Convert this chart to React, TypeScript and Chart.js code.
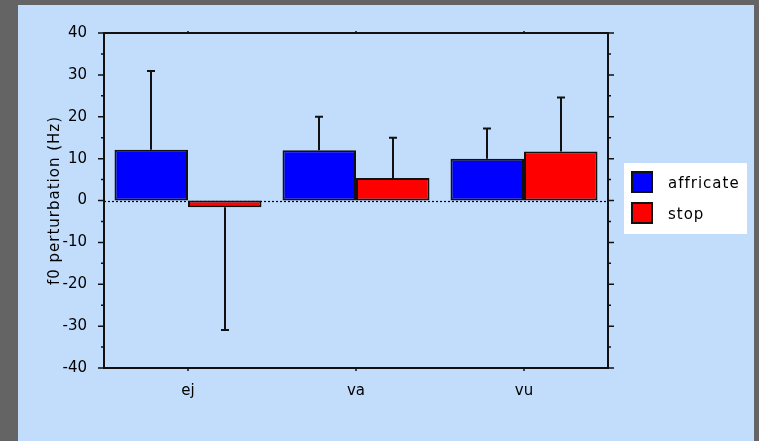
import React, { useEffect, useRef } from 'react';
import { Chart, registerables } from 'chart.js';
Chart.register(...registerables);

const W = 759;
const H = 441;

const categories = ['ej', 'va', 'vu'];
const seriesNames = ['affricate', 'stop'];
const affricate = [12.1, 12.0, 10.0];
const stop = [-1.6, 5.4, 11.7];
const affricateErr = [18.8, 8.0, 7.2];
const stopErr = [29.3, 9.6, 12.9];
const yMin = -40;
const yMax = 40;
const yStep = 10;
const yMinorStep = 5;
const yTitle = 'f0 perturbation (Hz)';

const errs = [affricateErr, stopErr];

const decor = {
  id: 'decor',
  beforeDraw(chart: any) {
    const ctx = chart.ctx;
    ctx.save();
    ctx.fillStyle = '#646464';
    ctx.fillRect(0, 0, W, H);
    ctx.fillStyle = '#C2DDFC';
    ctx.fillRect(18, 5, 736, H - 5);
    ctx.restore();
  },
  beforeDatasetsDraw(chart: any) {
    const ctx = chart.ctx;
    const { left, right } = chart.chartArea;
    const y0 = chart.scales.y.getPixelForValue(0);
    ctx.save();
    ctx.strokeStyle = '#000';
    ctx.lineWidth = 1.2;
    ctx.setLineDash([2, 2]);
    ctx.beginPath();
    ctx.moveTo(left, Math.round(y0) + 0.5);
    ctx.lineTo(right, Math.round(y0) + 0.5);
    ctx.stroke();
    ctx.restore();
  },
  afterDatasetsDraw(chart: any) {
    const ctx = chart.ctx;
    const ys = chart.scales.y;
    const xs = chart.scales.x;
    const { left, right, top, bottom } = chart.chartArea;
    ctx.save();
    // error bars
    ctx.strokeStyle = '#111';
    ctx.lineWidth = 2;
    chart.data.datasets.forEach((ds: any, i: number) => {
      const meta = chart.getDatasetMeta(i);
      meta.data.forEach((el: any, j: number) => {
        const v = ds.data[j];
        const e = errs[i][j];
        const tip = v >= 0 ? v + e : v - e;
        const x = Math.round(el.x);
        const y0 = ys.getPixelForValue(v);
        const y1 = ys.getPixelForValue(tip);
        ctx.beginPath();
        ctx.moveTo(x, y0);
        ctx.lineTo(x, y1);
        ctx.moveTo(x - 4, y1);
        ctx.lineTo(x + 4, y1);
        ctx.stroke();
      });
    });
    // frame
    ctx.strokeStyle = '#111';
    ctx.lineWidth = 2;
    ctx.strokeRect(left, top, right - left, bottom - top);
    // y ticks
    ctx.lineWidth = 1.5;
    for (let v = yMin; v <= yMax; v += yMinorStep) {
      const y = ys.getPixelForValue(v);
      const major = v % yStep === 0;
      const len = major ? 6 : 3;
      ctx.beginPath();
      ctx.moveTo(left - len, y);
      ctx.lineTo(left, y);
      ctx.moveTo(right, y);
      ctx.lineTo(right + len, y);
      ctx.stroke();
    }
    // x ticks
    categories.forEach((_, k) => {
      const x = xs.getPixelForValue(k);
      ctx.beginPath();
      ctx.moveTo(x, bottom);
      ctx.lineTo(x, bottom + 3);
      ctx.moveTo(x, top);
      ctx.lineTo(x, top - 2);
      ctx.stroke();
    });
    // y title
    ctx.fillStyle = '#000';
    ctx.font = '15px "DejaVu Sans"';
    (ctx as any).letterSpacing = '1px';
    ctx.textAlign = 'center';
    ctx.textBaseline = 'alphabetic';
    ctx.save();
    ctx.translate(59, (top + bottom) / 2);
    ctx.rotate(-Math.PI / 2);
    ctx.fillText(yTitle, 0, 0);
    ctx.restore();
    // legend
    ctx.fillStyle = '#fff';
    ctx.fillRect(624, 163, 123, 71);
    chart.data.datasets.forEach((ds: any, i: number) => {
      const sy = 171 + i * 31;
      ctx.fillStyle = ds.backgroundColor;
      ctx.fillRect(632, sy + 1, 20, 20);
      ctx.strokeStyle = '#111';
      ctx.lineWidth = 2;
      ctx.strokeRect(632, sy + 1, 20, 20);
      ctx.fillStyle = '#000';
      ctx.textAlign = 'left';
      ctx.textBaseline = 'alphabetic';
      ctx.fillText(ds.label, 668, sy + 17);
    });
    ctx.restore();
  },
};

export default function App() {
  const ref = useRef<HTMLCanvasElement | null>(null);
  useEffect(() => {
    document.body.style.margin = '0';
    const canvas = ref.current!;
    const chart = new Chart(canvas, {
      type: 'bar',
      data: {
        labels: categories,
        datasets: [
          {
            label: seriesNames[0],
            data: affricate,
            backgroundColor: '#0000FF',
            borderColor: '#111',
            borderWidth: 2,
            borderSkipped: false,
          },
          {
            label: seriesNames[1],
            data: stop,
            backgroundColor: '#FF0000',
            borderColor: '#111',
            borderWidth: 2,
            borderSkipped: false,
          },
        ],
      },
      options: {
        responsive: false,
        animation: false,
        devicePixelRatio: 1,
        layout: { padding: { left: 0, top: 33, right: 151, bottom: 0 } },
        plugins: { legend: { display: false }, tooltip: { enabled: false } },
        datasets: { bar: { categoryPercentage: 0.875, barPercentage: 1 } },
        scales: {
          x: {
            grid: { display: false, drawTicks: false },
            border: { display: false },
            ticks: { font: { family: 'DejaVu Sans', size: 15 }, color: '#000', padding: 14 },
            afterFit: (s: any) => { s.height = 73; },
          },
          y: {
            min: yMin,
            max: yMax,
            grid: { display: false, drawTicks: false },
            border: { display: false },
            ticks: { stepSize: yStep, font: { family: 'DejaVu Sans', size: 15 }, color: '#000', padding: 17 },
            afterFit: (s: any) => { s.width = 104; },
          },
        },
      },
      plugins: [decor],
    } as any);
    return () => chart.destroy();
  }, []);
  return (
    <div style={{ position: 'absolute', left: 0, top: 0, width: W, height: H }}>
      <canvas ref={ref} width={W} height={H} style={{ display: 'block', width: W, height: H }} />
    </div>
  );
}
